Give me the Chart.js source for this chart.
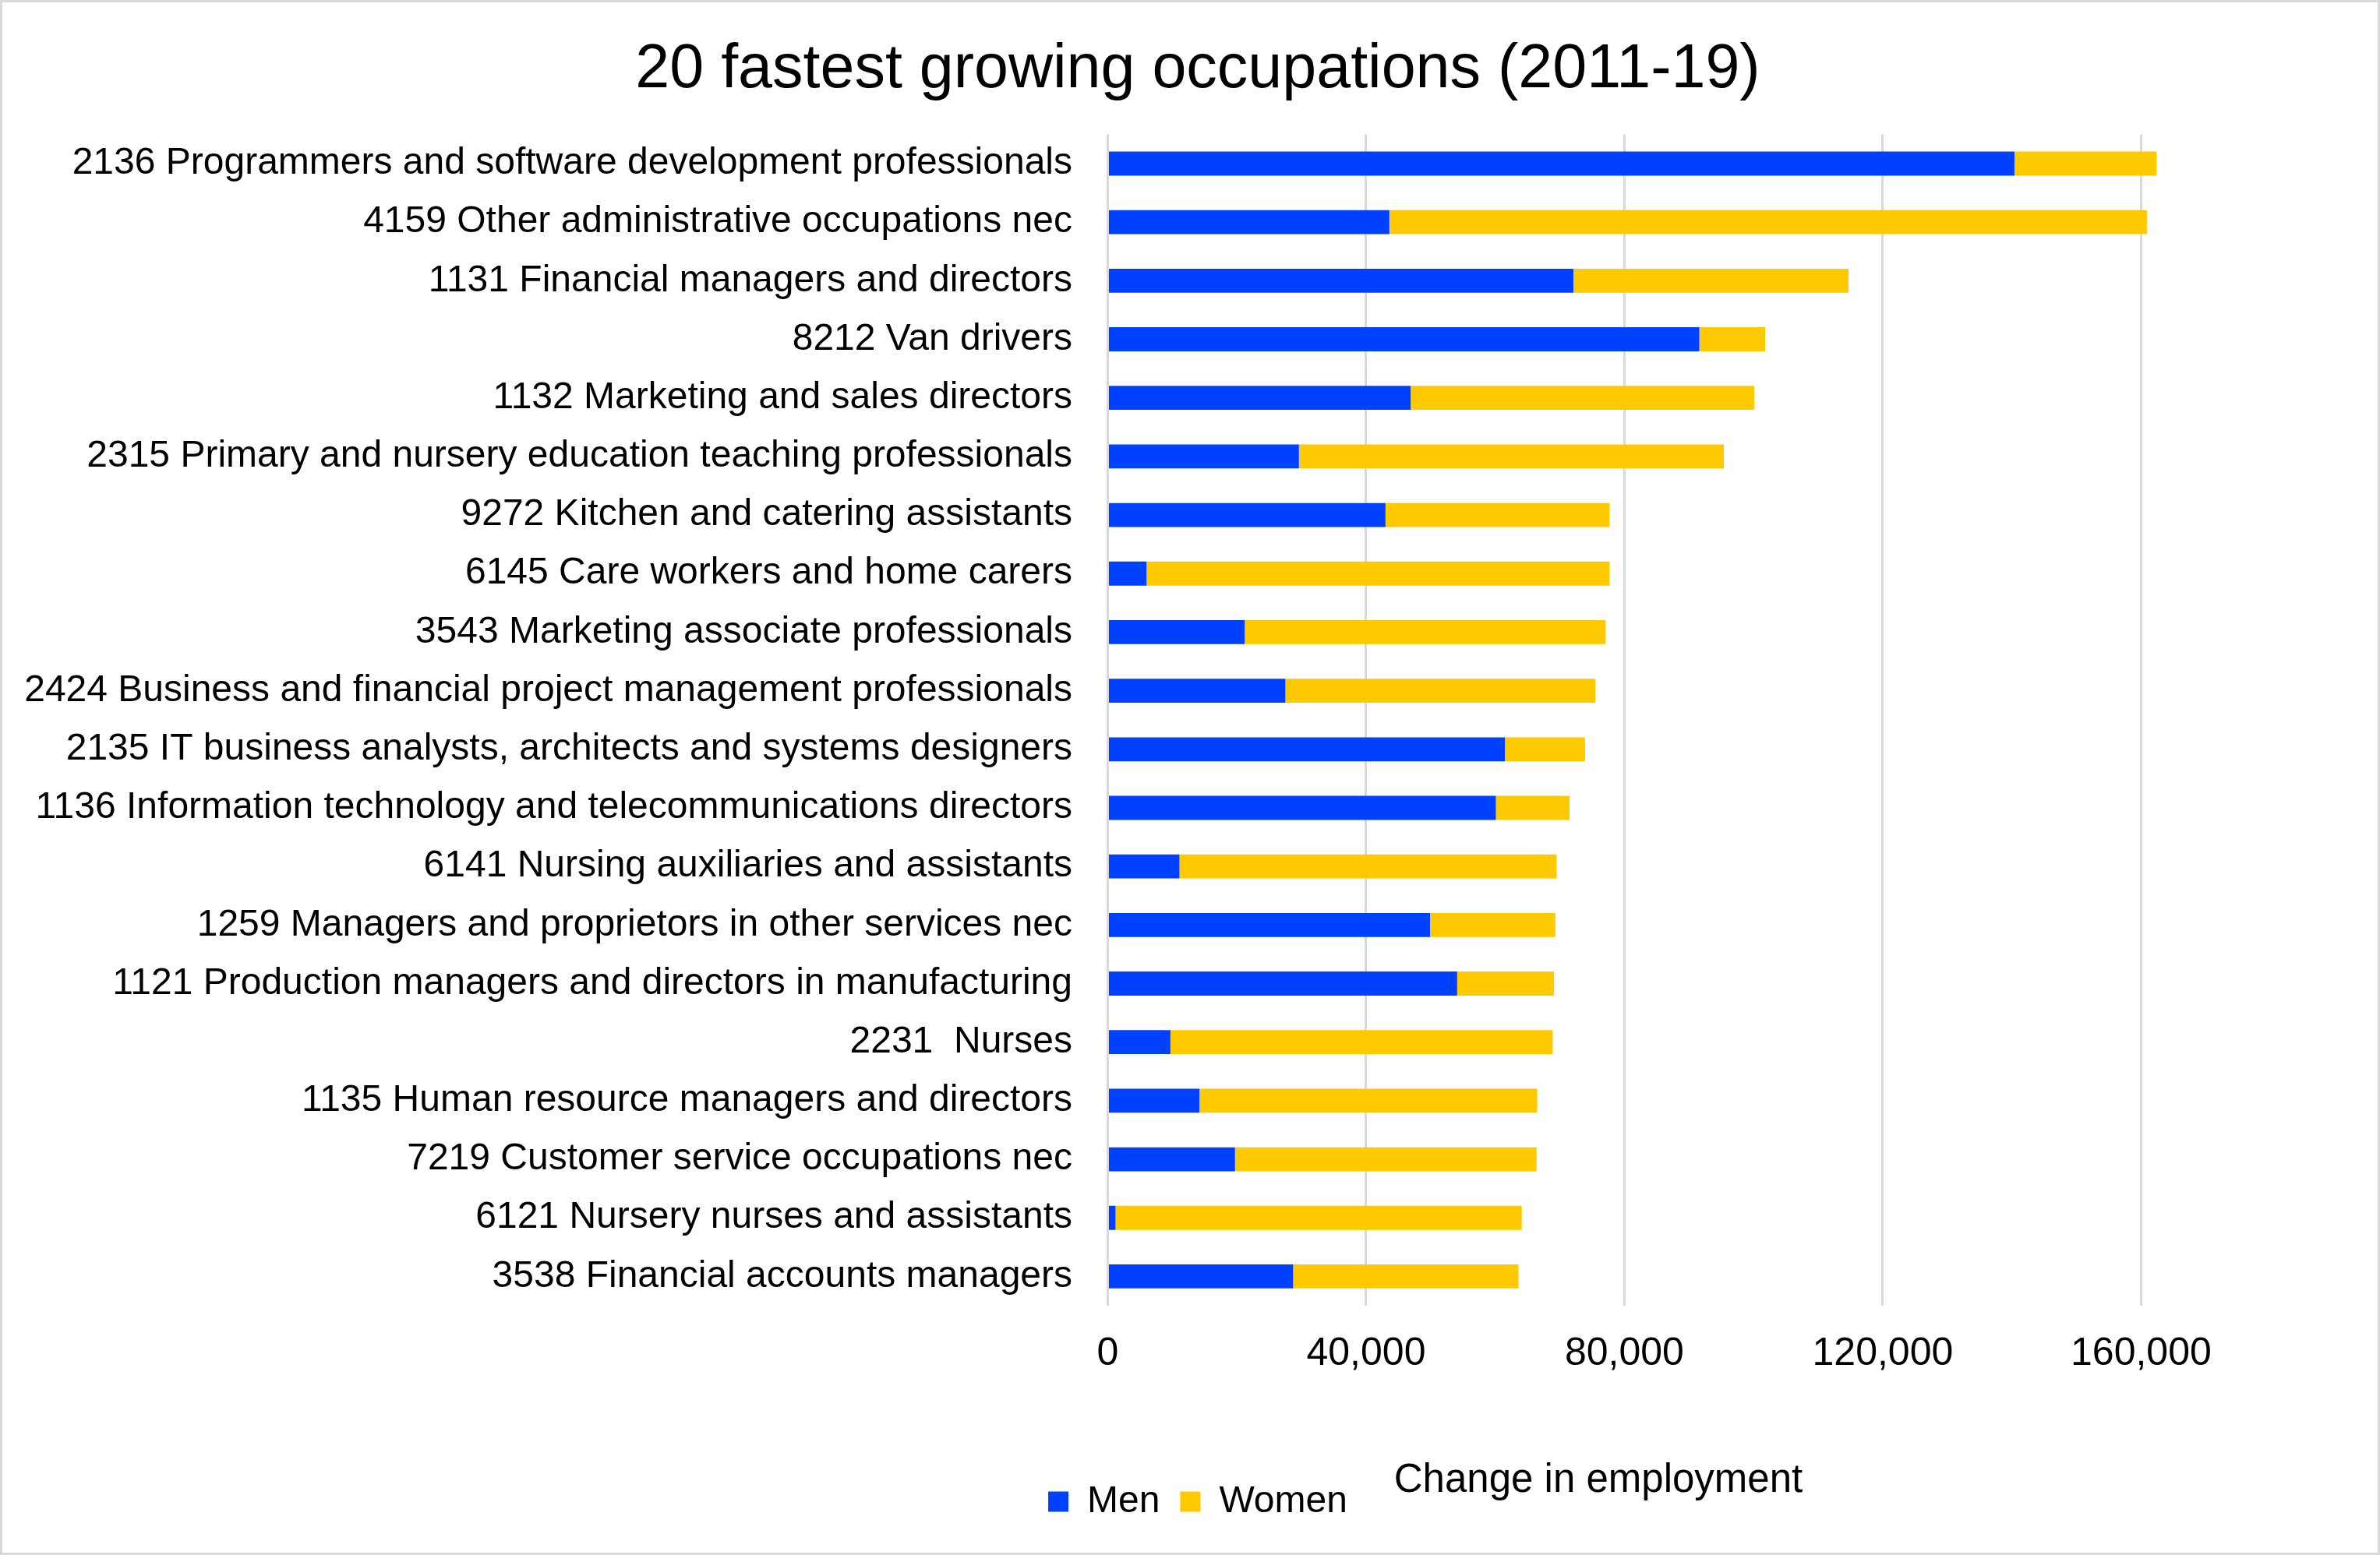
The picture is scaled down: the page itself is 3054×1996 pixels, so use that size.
<!DOCTYPE html>
<html>
<head>
<meta charset="utf-8">
<script src="https://cdn.jsdelivr.net/npm/chart.js@4.4.1/dist/chart.umd.min.js"></script>
<style>
  html, body { margin: 0; padding: 0; background: #ffffff; }
  canvas { display: block; }
</style>
</head>
<body>
<canvas id="c" width="3054" height="1996"></canvas>
<script>
const chartTitle = '20 fastest growing occupations (2011-19)';
const axisTitle = 'Change in employment';
const categories = [
  '2136 Programmers and software development professionals',
  '4159 Other administrative occupations nec',
  '1131 Financial managers and directors',
  '8212 Van drivers',
  '1132 Marketing and sales directors',
  '2315 Primary and nursery education teaching professionals',
  '9272 Kitchen and catering assistants',
  '6145 Care workers and home carers',
  '3543 Marketing associate professionals',
  '2424 Business and financial project management professionals',
  '2135 IT business analysts, architects and systems designers',
  '1136 Information technology and telecommunications directors',
  '6141 Nursing auxiliaries and assistants',
  '1259 Managers and proprietors in other services nec',
  '1121 Production managers and directors in manufacturing',
  '2231  Nurses',
  '1135 Human resource managers and directors',
  '7219 Customer service occupations nec',
  '6121 Nursery nurses and assistants',
  '3538 Financial accounts managers'
];
const seriesNames = ['Men', 'Women'];
const men   = [140400, 43600, 72100, 91600, 46900, 29600, 43000, 6000, 21200, 27500, 61500, 60100, 11100, 49900, 54100, 9700, 14200, 19700, 1200, 28700];
const women = [22000, 117300, 42600, 10200, 53200, 65800, 34700, 71700, 55900, 48000, 12400, 11400, 58400, 19400, 15000, 59200, 52300, 46700, 62900, 34900];
const xTicks = [0, 40000, 80000, 120000, 160000];
const xMax = 197000;

const FONT = '"Liberation Sans", Arial, Helvetica, sans-serif';

const extras = {
  id: 'extras',
  afterDraw(chart) {
    const ctx = chart.ctx;
    ctx.save();
    ctx.fillStyle = '#000000';
    ctx.font = '51px ' + FONT;
    ctx.textAlign = 'center';
    ctx.textBaseline = 'alphabetic';
    ctx.fillText(axisTitle, 2051, 1915);
    ctx.strokeStyle = '#d9d9d9';
    ctx.lineWidth = 3;
    ctx.strokeRect(1.5, 1.5, chart.width - 3, chart.height - 3);
    ctx.restore();
  }
};

new Chart(document.getElementById('c'), {
  type: 'bar',
  data: {
    labels: categories,
    datasets: [
      { label: seriesNames[0], data: men, backgroundColor: '#0040ff', borderWidth: 0,
        barPercentage: 0.41, categoryPercentage: 1.0 },
      { label: seriesNames[1], data: women, backgroundColor: '#ffc900', borderWidth: 0,
        barPercentage: 0.41, categoryPercentage: 1.0 }
    ]
  },
  options: {
    indexAxis: 'y',
    responsive: false,
    animation: false,
    devicePixelRatio: 1,
    layout: { padding: { left: 20, right: 0, top: 0, bottom: 34.5 } },
    scales: {
      x: {
        stacked: true,
        min: 0,
        max: xMax,
        grid: { color: '#d9d9d9', lineWidth: 3, drawTicks: false },
        border: { display: false },
        afterBuildTicks(scale) { scale.ticks = xTicks.map(v => ({ value: v })); },
        ticks: {
          color: '#000000',
          font: { family: FONT, size: 50 },
          padding: 32.5,
          maxRotation: 0
        },
        afterFit(scale) { scale.height = 201.5; }
      },
      y: {
        stacked: true,
        grid: { display: false, drawTicks: false },
        border: { display: false },
        ticks: {
          color: '#000000',
          font: { family: FONT, size: 48 },
          padding: 45.5,
          autoSkip: false
        },
        afterFit(scale) { scale.width = 1401.5; }
      }
    },
    plugins: {
      title: {
        display: true,
        text: chartTitle,
        color: '#000000',
        font: { family: FONT, size: 79, weight: 'normal' },
        padding: { top: 43, bottom: 34.6 }
      },
      legend: {
        display: true,
        position: 'bottom',
        labels: {
          color: '#000000',
          font: { family: FONT, size: 48 },
          boxWidth: 26,
          boxHeight: 26,
          padding: 26
        }
      },
      tooltip: { enabled: false }
    }
  },
  plugins: [extras]
});
</script>
</body>
</html>
